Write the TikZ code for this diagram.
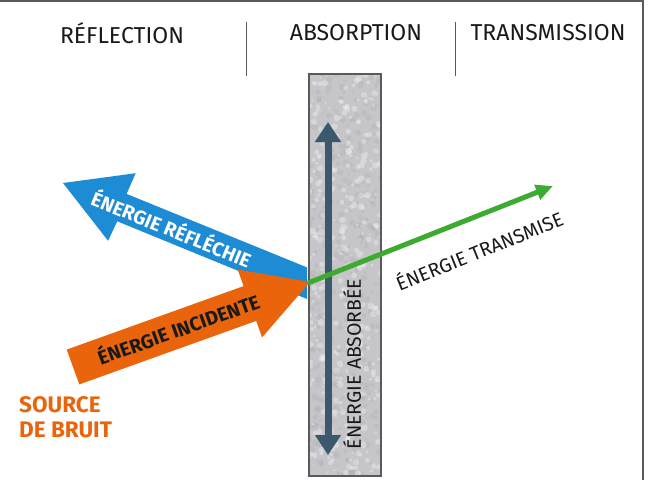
\documentclass[tikz,border=0pt]{standalone}
\usepackage{fontspec}
\setmainfont{Fira Sans}
\usetikzlibrary{arrows.meta}
\definecolor{blueA}{RGB}{30,140,212}
\definecolor{orangeA}{RGB}{234,100,12}
\definecolor{greenA}{RGB}{62,170,50}
\definecolor{slateA}{RGB}{60,88,108}
\definecolor{wallA}{RGB}{198,198,202}
\definecolor{frameA}{RGB}{90,90,90}
\definecolor{inkA}{RGB}{25,25,25}
\begin{document}
\begin{tikzpicture}[x=1pt,y=-1pt,
  title/.style={inner sep=0pt, text=inkA, font=\fontsize{23}{25}\selectfont},
  divider/.style={draw=frameA, line width=0.9pt},
  lbl/.style={inner sep=0pt, text=inkA, font=\fontsize{19.5}{21}\selectfont},
  arrowlbl/.style={inner sep=0pt, font=\bfseries\fontsize{19.5}{21}\selectfont},
  wallbox/.style={draw=frameA, line width=1.3pt, minimum width=72pt, minimum height=402pt, inner sep=0pt},
  srclbl/.style={inner sep=0pt, align=left, text=orangeA, font=\bfseries\fontsize{22.5}{25}\selectfont}
]
\useasboundingbox (0,0) rectangle (648,480);
% frame
\coordinate (f1) at (0,0.75);
\coordinate (f2) at (643,0.75);
\coordinate (f3) at (643,480);
\draw[frameA, line width=1.5pt] (f1) -- (f2) -- (f3);
% titles
\node[title] (trefl) at (122,33) {RÉFLECTION};
\node[title] (tabs) at (356,33) {ABSORPTION};
\node[title] (ttrans) at (548,33) {TRANSMISSION};
\coordinate (d1a) at (246,22); \coordinate (d1b) at (246,76);
\coordinate (d2a) at (455,22); \coordinate (d2b) at (455,76);
\draw[divider] (d1a) -- (d1b);
\draw[divider] (d2a) -- (d2b);
% wall
\fill[wallA] (309,74) rectangle (381,476);
\begin{scope}
\clip (309,74) rectangle (381,476);
\pgfmathsetseed{7}
\foreach \i in {1,...,450}{
  \pgfmathsetmacro\px{309+72*rnd}
  \pgfmathsetmacro\py{74+402*rnd}
  \pgfmathsetmacro\rr{1+2.5*rnd}
  \fill[gray!70, opacity=0.22] (\px,\py) circle[radius=\rr pt];
}
\foreach \i in {1,...,350}{
  \pgfmathsetmacro\px{309+72*rnd}
  \pgfmathsetmacro\py{74+402*rnd}
  \pgfmathsetmacro\rr{1+2.5*rnd}
  \fill[white, opacity=0.3] (\px,\py) circle[radius=\rr pt];
}
\end{scope}
\node[wallbox] (wall) at (345,275) {};
% absorbed arrow
\coordinate (abstop) at (328,122);
\coordinate (absbot) at (328,455);
\draw[slateA, line width=7pt, {Triangle[width=25pt,length=20pt]}-{Triangle[width=25pt,length=20pt]}] (absbot) -- (abstop);
\node[lbl, rotate=90] (abslbl) at (352,364) {ÉNERGIE ABSORBÉE};
% reflected arrow (blue)
\coordinate (b1) at (307,267.4);
\coordinate (b2) at (126.6,193.9);
\coordinate (b3) at (135.7,173.2);
\coordinate (b4) at (63,183);
\coordinate (b5) at (108.1,240.8);
\coordinate (b6) at (117.2,221.3);
\coordinate (b7) at (307,299);
\fill[blueA] (b1) -- (b2) -- (b3) -- (b4) -- (b5) -- (b6) -- (b7) -- cycle;
\node[arrowlbl, text=white, rotate=-22.2] (refl) at (172,228) {ÉNERGIE RÉFLÉCHIE};
% incident arrow (orange)
\coordinate (o1) at (66.7,349.6);
\coordinate (o2) at (243.6,286.1);
\coordinate (o3) at (237.7,269.6);
\coordinate (o4) at (310,281.9);
\coordinate (o5) at (262.1,337.4);
\coordinate (o6) at (256.2,320.9);
\coordinate (o7) at (79.3,384.4);
\fill[orangeA] (o1) -- (o2) -- (o3) -- (o4) -- (o5) -- (o6) -- (o7) -- cycle;
\node[arrowlbl, text=inkA, rotate=19.7] (inc) at (178,328) {ÉNERGIE INCIDENTE};
% transmitted arrow
\coordinate (g0) at (308,283);
\coordinate (g1) at (553,186);
\draw[greenA, line width=5pt, -{Triangle[width=15pt,length=17pt]}] (g0) -- (g1);
\node[lbl, rotate=22] (trans) at (479,250) {ÉNERGIE TRANSMISE};
% source
\node[srclbl, anchor=north west] (src) at (19,396) {SOURCE\\DE BRUIT};
\end{tikzpicture}
\end{document}
